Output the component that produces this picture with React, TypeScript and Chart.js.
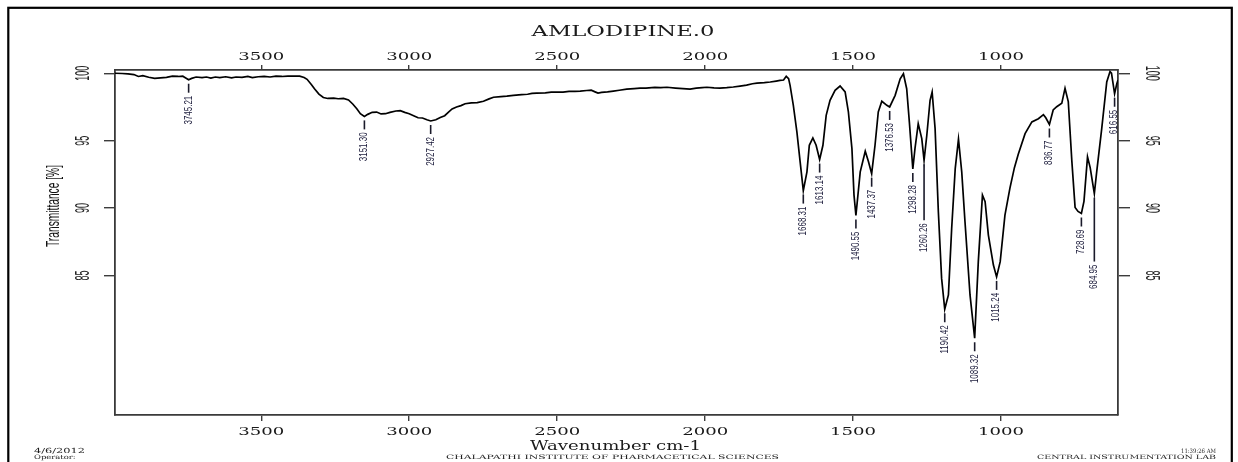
import React, { useEffect, useRef } from "react";
import { Chart, registerables } from "chart.js";

Chart.register(...registerables);

// ---------------- DATA ----------------
const wavenumbers = [
  3994, 3970, 3950, 3930, 3915, 3900, 3880, 3860, 3840, 3820, 3800, 3780, 3765, 3755, 3745.21, 3735, 3720, 3700,
  3685, 3670, 3655, 3640, 3620, 3600, 3585, 3565, 3545, 3530, 3510, 3490, 3470, 3450, 3430, 3410, 3390, 3370,
  3355, 3345, 3330, 3320, 3305, 3290, 3275, 3255, 3240, 3222, 3205, 3190, 3177, 3165, 3151.3, 3140, 3125, 3110,
  3095, 3080, 3065, 3045, 3030, 3015, 3000, 2985, 2970, 2955, 2940, 2927.42, 2910, 2895, 2880, 2868, 2855, 2840,
  2825, 2811, 2790, 2770, 2749, 2730, 2715, 2690, 2670, 2648, 2620, 2600, 2585, 2569, 2540, 2520, 2501, 2480,
  2460, 2440, 2422, 2400, 2385, 2372, 2362, 2350, 2330, 2310, 2290, 2265, 2240, 2220, 2200, 2170, 2150, 2129,
  2100, 2075, 2051, 2030, 2010, 1994, 1970, 1950, 1927, 1905, 1882, 1860, 1840, 1825, 1800, 1780, 1760, 1747,
  1735, 1726, 1718, 1713, 1702, 1690, 1679, 1668.31, 1656, 1648, 1636, 1625, 1613.14, 1602, 1591, 1578, 1561,
  1544, 1527, 1516, 1504, 1497, 1490.55, 1476, 1459, 1448, 1437.37, 1426, 1415, 1403, 1386, 1376.53, 1358,
  1341, 1330, 1319, 1310, 1298.28, 1291, 1280, 1268, 1260.26, 1251, 1240, 1233, 1223, 1212, 1201, 1190.42,
  1178, 1167, 1155, 1144, 1133, 1122, 1105, 1089.32, 1077, 1063, 1054, 1043, 1026, 1015.24, 1003, 987, 970,
  955, 942, 919, 896, 874, 857, 849, 836.77, 824, 812, 795, 784, 773, 761, 750, 740, 728.69, 720, 708, 699,
  684.95, 677, 660, 643, 632, 627, 616.55, 609, 605,
];

const transmittance = [
  100.0, 99.98, 99.95, 99.9, 99.76, 99.82, 99.7, 99.62, 99.66, 99.7, 99.78, 99.76, 99.78, 99.65, 99.52, 99.62, 99.72, 99.68,
  99.72, 99.64, 99.72, 99.68, 99.74, 99.66, 99.72, 99.7, 99.76, 99.68, 99.74, 99.76, 99.72, 99.78, 99.76, 99.79, 99.78, 99.78,
  99.68, 99.55, 99.15, 98.85, 98.45, 98.2, 98.13, 98.15, 98.11, 98.13, 98.02, 97.7, 97.37, 97.0, 96.8, 96.95, 97.1, 97.12,
  96.98, 97.0, 97.1, 97.2, 97.22, 97.1, 97.0, 96.85, 96.7, 96.68, 96.55, 96.46, 96.55, 96.72, 96.85, 97.1, 97.35, 97.5,
  97.6, 97.74, 97.8, 97.82, 97.92, 98.1, 98.22, 98.27, 98.3, 98.36, 98.42, 98.44, 98.5, 98.53, 98.55, 98.6, 98.61, 98.6,
  98.65, 98.66, 98.68, 98.72, 98.74, 98.62, 98.53, 98.58, 98.62, 98.68, 98.74, 98.82, 98.86, 98.9, 98.9, 98.95, 98.93, 98.96,
  98.9, 98.86, 98.82, 98.9, 98.94, 98.96, 98.92, 98.9, 98.93, 98.98, 99.05, 99.12, 99.22, 99.27, 99.3, 99.35, 99.42, 99.47,
  99.5, 99.77, 99.6, 99.1, 97.62, 95.65, 93.43, 91.3, 92.69, 94.66, 95.2, 94.66, 93.6, 94.66, 96.88, 97.99, 98.73,
  99.05, 98.61, 97.13, 94.41, 90.96, 89.45, 92.69, 94.22, 93.43, 92.55, 94.66, 97.13, 97.92, 97.62, 97.5, 98.36,
  99.59, 99.96, 98.85, 96.39, 92.9, 94.41, 96.26, 95.15, 93.55, 95.4, 97.99, 98.61, 95.89, 89.73, 84.79, 82.5,
  83.56, 88.49, 92.93, 95.11, 92.69, 88.99, 83.56, 80.35, 86.03, 90.96, 90.47, 88.0, 85.78, 84.9, 86.03, 89.48, 91.5,
  93.0, 94.0, 95.52, 96.39, 96.63, 96.93, 96.7, 96.2, 97.28, 97.52, 97.77, 98.88, 97.9, 93.5, 90.05, 89.75, 89.6, 90.5, 93.8, 93.0,
  91.08, 92.69, 95.89, 99.35, 100.12, 100.0, 98.48, 99.22, 99.5,
];

const peakWavenumbers = [
  3745.21, 3151.3, 2927.42, 1668.31, 1613.14, 1490.55, 1437.37, 1376.53, 1298.28, 1260.26, 1190.42, 1089.32,
  1015.24, 836.77, 728.69, 684.95, 616.55,
];

const xTickValues = [3500, 3000, 2500, 2000, 1500, 1000];
const yTickValues = [85, 90, 95, 100];

const chartTitle = "AMLODIPINE.0";
const xAxisTitle = "Wavenumber cm-1";
const yAxisTitle = "Transmittance [%]";
const footerDate = "4/6/2012";
const footerOperator = "Operator:";
const footerInstitute = "CHALAPATHI INSTITUTE OF PHARMACETICAL SCIENCES";
const footerTime = "11:39:26 AM";
const footerLab = "CENTRAL INSTRUMENTATION LAB";

// axis ranges
const X_MIN = 605;
const X_MAX = 3994;
const Y_MIN = 74.66;
const Y_MAX = 100.24;

// ---------------- DRAW HELPERS ----------------
type TextOpts = {
  font: string;
  color?: string;
  rot?: number;
  align?: CanvasTextAlign;
  baseline?: CanvasTextBaseline;
  width?: number; // target length along text direction
  stretch?: number;
};

function drawText(ctx: CanvasRenderingContext2D, text: string, x: number, y: number, o: TextOpts) {
  ctx.save();
  ctx.font = o.font;
  let s = o.stretch ?? 1;
  if (o.width) {
    const w = ctx.measureText(text).width;
    if (w > 0) s = o.width / w;
  }
  ctx.translate(x, y);
  ctx.rotate(o.rot ?? 0);
  ctx.scale(s, 1);
  ctx.fillStyle = o.color ?? "#1a1a1a";
  ctx.textAlign = o.align ?? "center";
  ctx.textBaseline = o.baseline ?? "alphabetic";
  ctx.fillText(text, 0, 0);
  ctx.restore();
}

const SERIF = '"DejaVu Serif", "Liberation Serif", serif';
const SANS = '"Liberation Sans", Arial, sans-serif';

const leaderExtra: Record<string, number> = { "1260.26": 47, "684.95": 55 };

const decorPlugin = {
  id: "irDecor",
  afterDraw(chart: any) {
    const ctx: CanvasRenderingContext2D = chart.ctx;
    const xs = chart.scales.x;
    const ys = chart.scales.y;
    const area = chart.chartArea;

    // outer frame
    ctx.save();
    ctx.strokeStyle = "#000";
    ctx.lineWidth = 2.2;
    ctx.strokeRect(8.3, 7.8, 1223.5, 480);
    ctx.restore();

    // title
    drawText(ctx, chartTitle, 623, 36, { font: `15px ${SERIF}`, width: 183 });

    // x tick labels (top & bottom)
    for (const t of xs.ticks) {
      const px = xs.getPixelForValue(t.value);
      const label = String(t.value);
      drawText(ctx, label, px, 60, { font: `11px ${SERIF}`, width: 46 });
      drawText(ctx, label, px, 434.5, { font: `11px ${SERIF}`, width: 46 });
    }

    // y tick labels (left & right), rotated
    for (const t of ys.ticks) {
      const py = ys.getPixelForValue(t.value);
      const label = String(t.value);
      drawText(ctx, label, 83.5, py, {
        font: `20px ${SANS}`, rot: -Math.PI / 2, baseline: "middle", stretch: 0.45, color: "#222",
      });
      drawText(ctx, label, area.right + 33.5, py, {
        font: `20px ${SANS}`, rot: Math.PI / 2, baseline: "middle", stretch: 0.45, color: "#222",
      });
    }

    // axis titles
    drawText(ctx, yAxisTitle, 54, 206, {
      font: `18px ${SANS}`, rot: -Math.PI / 2, baseline: "middle", width: 82, color: "#111",
    });
    drawText(ctx, xAxisTitle, 615.5, 450, { font: `12px ${SERIF}`, width: 171 });

    // peak labels
    for (const wn of peakWavenumbers) {
      let idx = 0;
      let best = Infinity;
      wavenumbers.forEach((w, i) => {
        const d = Math.abs(w - wn);
        if (d < best) { best = d; idx = i; }
      });
      const px = xs.getPixelForValue(wn);
      const py = ys.getPixelForValue(transmittance[idx]);
      const label = wn.toFixed(2);
      const extra = leaderExtra[label] ?? 0;
      ctx.save();
      ctx.strokeStyle = "#1a1a2a";
      ctx.lineWidth = 1.6;
      ctx.beginPath();
      ctx.moveTo(px, py + 4);
      ctx.lineTo(px, py + 13 + extra);
      ctx.stroke();
      ctx.restore();
      drawText(ctx, label, px, py + 16 + extra, {
        font: `10.5px ${SANS}`, rot: -Math.PI / 2, align: "right", baseline: "middle", stretch: 0.76, color: "#1a1a3a",
      });
    }

    // footers
    drawText(ctx, footerDate, 34, 452.7, { font: `7px ${SERIF}`, align: "left", width: 51 });
    drawText(ctx, footerOperator, 34, 458.5, { font: `6px ${SERIF}`, align: "left", width: 41.6 });
    drawText(ctx, footerInstitute, 612.5, 459, { font: `6px ${SERIF}`, width: 333 });
    drawText(ctx, footerTime, 1216, 452.7, { font: `6px ${SERIF}`, align: "right", width: 35 });
    drawText(ctx, footerLab, 1216, 458.7, { font: `6px ${SERIF}`, align: "right", width: 179 });
  },
};

function axisCommon(tickLength: number) {
  return {
    ticks: { display: false, autoSkip: false },
    grid: { drawOnChartArea: false, drawTicks: true, tickLength, color: "#3c3c3c", lineWidth: 1.4 },
    border: { display: true, color: "#3a3a3a", width: 1.8 },
  };
}

export default function App() {
  const canvasRef = useRef<HTMLCanvasElement | null>(null);

  useEffect(() => {
    const canvas = canvasRef.current;
    if (!canvas) return;
    const points = wavenumbers.map((w, i) => ({ x: w, y: transmittance[i] }));
    const chart = new Chart(canvas, {
      type: "line",
      data: {
        datasets: [
          {
            data: points,
            borderColor: "#000",
            borderWidth: 1.7,
            pointRadius: 0,
            tension: 0,
            fill: false,
            xAxisID: "x",
            yAxisID: "y",
          },
        ],
      },
      options: {
        responsive: false,
        animation: false,
        devicePixelRatio: 1,
        events: [],
        layout: { padding: 0 },
        plugins: { legend: { display: false }, title: { display: false }, tooltip: { enabled: false } },
        scales: {
          x: {
            type: "linear", position: "bottom", reverse: true, min: X_MIN, max: X_MAX,
            afterBuildTicks: (s: any) => { s.ticks = xTickValues.map((v) => ({ value: v })); },
            afterFit: (s: any) => { s.height = 47; },
            ...axisCommon(6),
          },
          x2: {
            type: "linear", position: "top", reverse: true, min: X_MIN, max: X_MAX,
            afterBuildTicks: (s: any) => { s.ticks = xTickValues.map((v) => ({ value: v })); },
            afterFit: (s: any) => { s.height = 70; },
            ...axisCommon(5),
          },
          y: {
            type: "linear", position: "left", min: Y_MIN, max: Y_MAX,
            afterBuildTicks: (s: any) => { s.ticks = yTickValues.map((v) => ({ value: v })); },
            afterFit: (s: any) => { s.width = 115; },
            ...axisCommon(11),
          },
          y2: {
            type: "linear", position: "right", min: Y_MIN, max: Y_MAX,
            afterBuildTicks: (s: any) => { s.ticks = yTickValues.map((v) => ({ value: v })); },
            afterFit: (s: any) => { s.width = 120; },
            ...axisCommon(12),
          },
        },
      } as any,
      plugins: [decorPlugin],
    });
    return () => chart.destroy();
  }, []);

  return (
    <div style={{ position: "fixed", left: 0, top: 0, width: 1238, height: 462, background: "#fff" }}>
      <canvas ref={canvasRef} width={1238} height={462} style={{ display: "block" }} />
    </div>
  );
}
